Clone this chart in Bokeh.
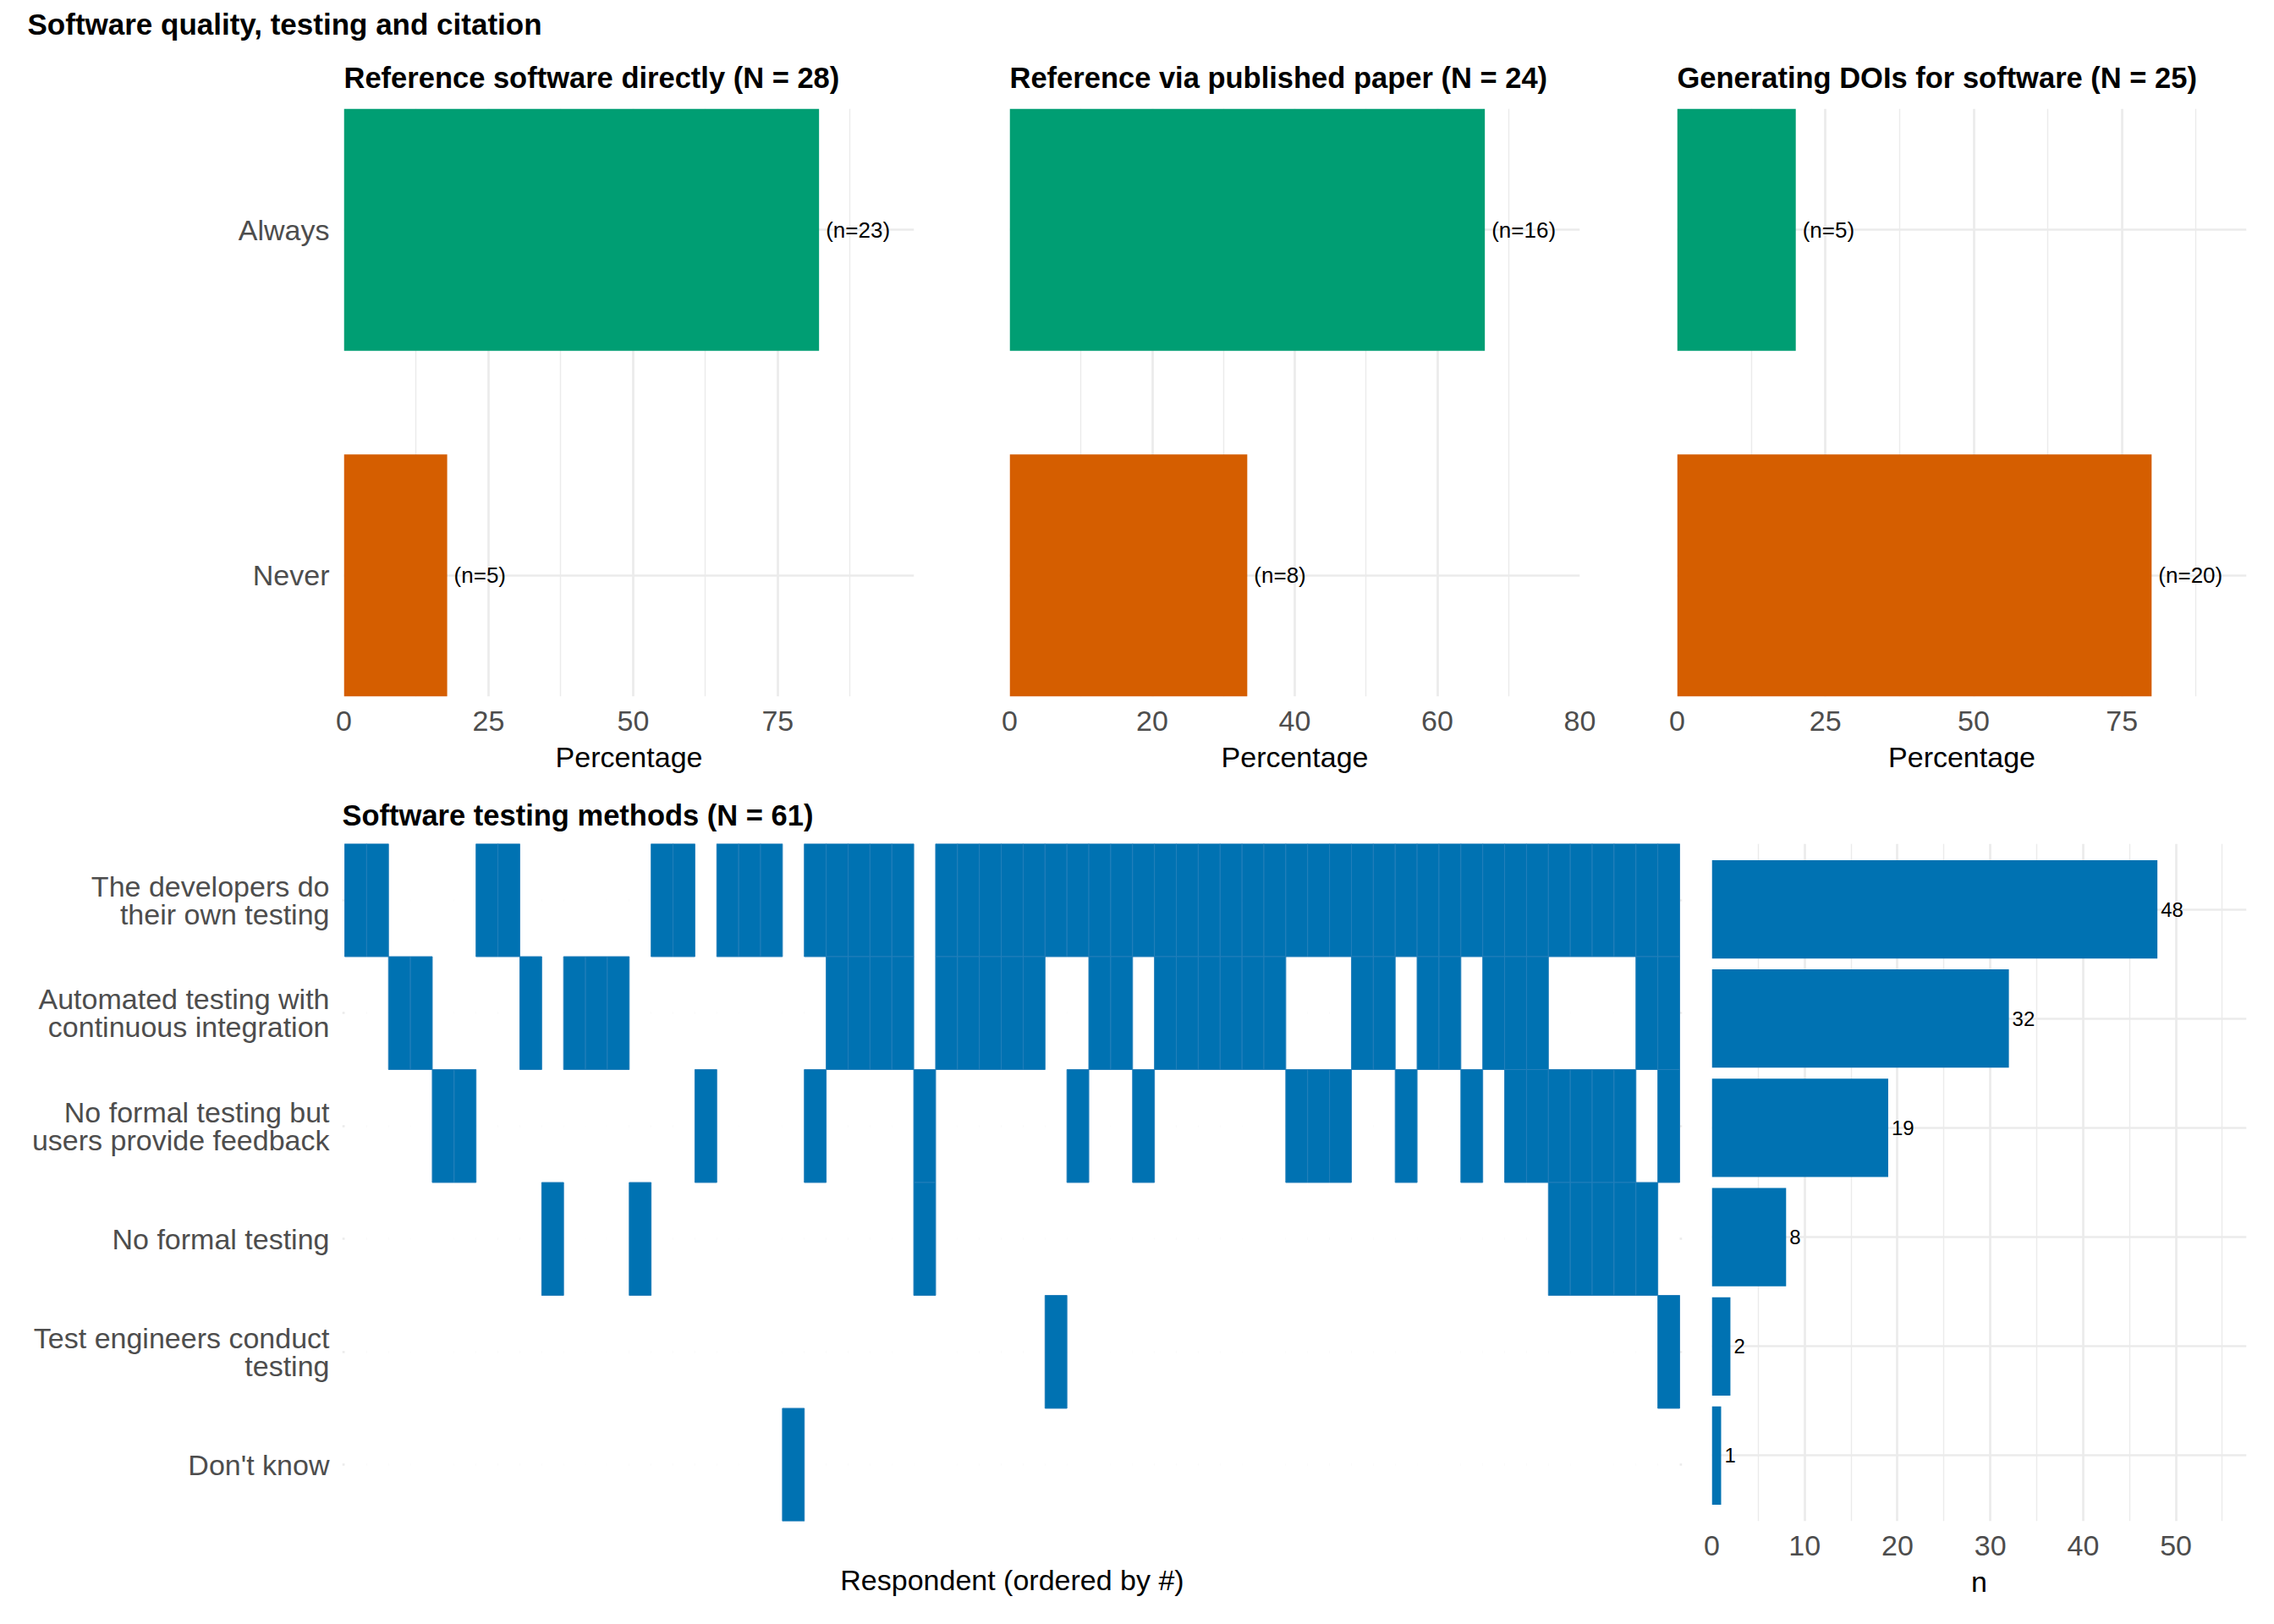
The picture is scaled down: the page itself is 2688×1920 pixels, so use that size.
from bokeh.plotting import figure
from bokeh.layouts import row, column
from bokeh.models import Range1d, FixedTicker, Title, Grid, ColumnDataSource
from bokeh.embed import file_html
from bokeh.resources import INLINE
from bokeh.core.properties import value

# ---------------- data ----------------
main_title = "Software quality, testing and citation"

citation_panels = ["Reference software directly", "Reference via published paper", "Generating DOIs for software"]
answers = ["Always", "Never"]
always_n = [23, 16, 5]
never_n = [5, 8, 20]
citation_ticks = [[0, 25, 50, 75], [0, 20, 40, 60, 80], [0, 25, 50, 75]]
citation_minor = [[12.5, 37.5, 62.5, 87.5], [10, 30, 50, 70], [12.5, 37.5, 62.5, 87.5]]

testing_title = "Software testing methods"
n_respondents = 61
methods = [
    "The developers do\ntheir own testing",
    "Automated testing with\ncontinuous integration",
    "No formal testing but\nusers provide feedback",
    "No formal testing",
    "Test engineers conduct\ntesting",
    "Don't know",
]
method_counts = [48, 32, 19, 8, 2, 1]
# respondents (ordered position 1..61) who ticked each method
resp_developers = [1, 2, 7, 8, 15, 16, 18, 19, 20, 22, 23, 24, 25, 26, 28, 29, 30, 31, 32, 33, 34,
                   35, 36, 37, 38, 39, 40, 41, 42, 43, 44, 45, 46, 47, 48, 49, 50, 51, 52, 53, 54,
                   55, 56, 57, 58, 59, 60, 61]
resp_automated = [3, 4, 9, 11, 12, 13, 23, 24, 25, 26, 28, 29, 30, 31, 32, 35, 36, 38, 39, 40, 41,
                  42, 43, 47, 48, 50, 51, 53, 54, 55, 60, 61]
resp_feedback = [5, 6, 17, 22, 27, 34, 37, 44, 45, 46, 49, 52, 54, 55, 56, 57, 58, 59, 61]
resp_no_formal = [10, 14, 27, 56, 57, 58, 59, 60]
resp_engineers = [33, 61]
resp_dont_know = [21]
count_ticks = [0, 10, 20, 30, 40, 50]
count_minor = [5, 15, 25, 35, 45, 55]

# ---------------- styling ----------------
FONT = "Liberation Sans"
GRID = "#EBEBEB"
TICK_TXT = "#4D4D4D"
GREEN, ORANGE, BLUE = "#009E73", "#D55E00", "#0072B2"
MAJOR_W, MINOR_W = 2.7, 1.4


def base_style(p):
    p.outline_line_color = None
    p.background_fill_color = "white"
    p.border_fill_color = "white"
    for ax in p.axis:
        ax.axis_line_color = None
        ax.major_tick_line_color = None
        ax.minor_tick_line_color = None
        ax.major_tick_out = 0
        ax.major_tick_in = 0
        ax.minor_tick_out = 0
        ax.minor_tick_in = 0
        ax.major_label_text_font = FONT
        ax.major_label_text_font_size = "34px"
        ax.major_label_text_color = TICK_TXT
        ax.axis_label_text_font = FONT
        ax.axis_label_text_font_size = "34px"
        ax.axis_label_text_font_style = "normal"
        ax.axis_label_text_color = "black"
    p.xgrid.visible = False
    p.ygrid.visible = False


def style_title(t, size="34.5px", standoff=35):
    t.text_font = FONT
    t.text_font_size = size
    t.text_font_style = "bold"
    t.text_color = "black"
    t.align = "left"
    t.standoff = standoff


def add_grid(p, dim, ticks, minor=None):
    g = Grid(dimension=dim, ticker=FixedTicker(ticks=ticks, minor_ticks=minor or []),
             grid_line_color=GRID, grid_line_width=MAJOR_W)
    if minor:
        g.minor_grid_line_color = GRID
        g.minor_grid_line_width = MINOR_W
    p.add_layout(g)


def style_xaxis(p, label):
    p.xaxis.axis_label = label
    p.xaxis.major_label_standoff = 17
    p.xaxis.axis_label_standoff = 9


# ---------------- top row: citation practice ----------------
TOP_H = 926
top_sizes = [(1136, 406, 56), (788, 57, 57), (764, 58, 33)]
top_figs = []
for i, name in enumerate(citation_panels):
    total = always_n[i] + never_n[i]
    pct = [100.0 * always_n[i] / total, 100.0 * never_n[i] / total]
    counts = [always_n[i], never_n[i]]
    width, bl, br = top_sizes[i]
    panel_title = f"{name} (N = {total})"
    p = figure(width=width, height=TOP_H, output_backend="svg", toolbar_location=None,
               title=main_title if i == 0 else panel_title,
               x_range=Range1d(0, max(pct) * 1.2), y_range=Range1d(0.65, 2.35),
               y_axis_location="left" if i == 0 else None,
               min_border_left=bl, min_border_right=br, min_border_top=128, min_border_bottom=103)
    base_style(p)
    if i == 0:
        # overall heading sits above the first panel's own heading
        style_title(p.title, size="35px", standoff=11)
        p.title.offset = -374
        sub = Title(text=panel_title)
        style_title(sub)
        p.add_layout(sub, "above")
    else:
        style_title(p.title)
    ypos = [2, 1]
    add_grid(p, 0, citation_ticks[i], citation_minor[i])
    add_grid(p, 1, ypos)
    src = ColumnDataSource(dict(y=ypos, pct=pct, color=[GREEN, ORANGE],
                                lab=[f"(n={c})" for c in counts]))
    p.hbar(y="y", left=0, right="pct", height=0.7, fill_color="color", line_color=None, source=src)
    p.text(x="pct", y="y", text="lab", source=src, x_offset=8, text_baseline="middle",
           text_align="left", text_font=value(FONT), text_font_size="26px", text_color="black")
    p.xaxis.ticker = FixedTicker(ticks=citation_ticks[i], minor_ticks=citation_minor[i])
    style_xaxis(p, "Percentage")
    if i == 0:
        p.yaxis.ticker = FixedTicker(ticks=ypos)
        p.yaxis.major_label_overrides = {2: answers[0], 1: answers[1]}
        p.yaxis.major_label_standoff = 17
    top_figs.append(p)

# ---------------- bottom row: testing methods ----------------
BOT_H = 1920 - TOP_H
method_members = [resp_developers, resp_automated, resp_feedback, resp_no_formal,
                  resp_engineers, resp_dont_know]
n_methods = len(methods)
row_y = [n_methods - k for k in range(n_methods)]

on_x, on_y, off_x, off_y = [], [], [], []
for k, members in enumerate(method_members):
    for r in range(1, n_respondents + 1):
        if r in members:
            on_x.append(r)
            on_y.append(row_y[k])
        else:
            off_x.append(r)
            off_y.append(row_y[k])

pad = 3 / 25.87
pm = figure(width=2005, height=BOT_H, output_backend="svg", toolbar_location=None,
            title=f"{testing_title} (N = {n_respondents})",
            x_range=Range1d(0.5 - pad, n_respondents + 0.5 + pad), y_range=Range1d(0.5, n_methods + 0.5),
            min_border_left=404, min_border_right=17, min_border_top=71, min_border_bottom=122)
base_style(pm)
style_title(pm.title, standoff=30)
add_grid(pm, 1, row_y)
pm.rect(x=off_x, y=off_y, width=1, height=1, fill_color="white", line_color=None)
pm.rect(x=on_x, y=on_y, width=1, height=1, fill_color=BLUE, line_color="#237FBA", line_width=1)
pm.xaxis.ticker = FixedTicker(ticks=[])
pm.xaxis.axis_label = "Respondent (ordered by #)"
pm.xaxis.major_label_standoff = 0
pm.xaxis.axis_label_standoff = 50
pm.yaxis.ticker = FixedTicker(ticks=row_y)
pm.yaxis.major_label_overrides = {row_y[k]: methods[k] for k in range(n_methods)}
pm.yaxis.major_label_standoff = 15
pm.yaxis.major_label_text_line_height = 0.86

pb = figure(width=683, height=BOT_H, output_backend="svg", toolbar_location=None,
            x_range=Range1d(0, max(method_counts) * 1.2), y_range=Range1d(0.4, n_methods + 0.6),
            y_axis_location=None,
            min_border_left=18, min_border_right=33, min_border_top=71, min_border_bottom=122)
base_style(pb)
add_grid(pb, 0, count_ticks, count_minor)
add_grid(pb, 1, row_y)
bsrc = ColumnDataSource(dict(y=row_y, n=method_counts, lab=[str(c) for c in method_counts]))
pb.hbar(y="y", left=0, right="n", height=0.9, fill_color=BLUE, line_color=None, source=bsrc)
pb.text(x="n", y="y", text="lab", source=bsrc, x_offset=4, text_baseline="middle",
        text_align="left", text_font=value(FONT), text_font_size="24px", text_color="black")
pb.xaxis.ticker = FixedTicker(ticks=count_ticks, minor_ticks=count_minor)
style_xaxis(pb, "n")

layout = column(row(*top_figs, spacing=0), row(pm, pb, spacing=0), spacing=0)

with open("out.html", "w") as f:
    f.write(file_html(layout, INLINE, title=main_title))
